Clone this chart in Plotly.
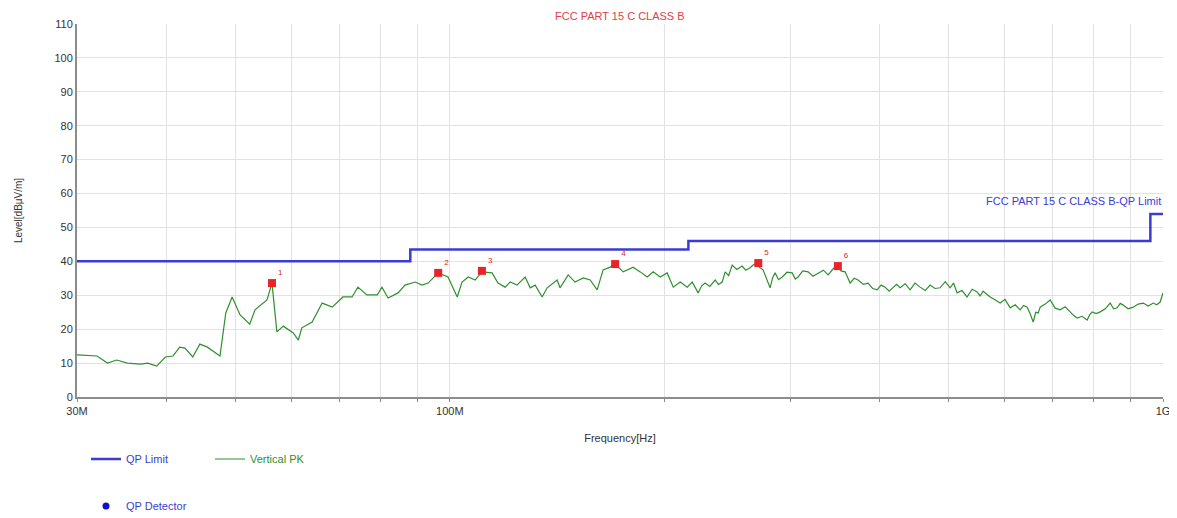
import plotly.graph_objects as go

# Limit line (QP limit, FCC Part 15 C class B), MHz / dBuV/m
limit_freq_mhz = [30, 88, 88, 216, 216, 960, 960, 1000]
limit_level = [40, 40, 43.5, 43.5, 46, 46, 54, 54]

# Vertical PK trace, MHz / dBuV/m
pk_freq_mhz = [
    30.0, 32.0, 33.1, 34.1, 35.3, 36.8, 37.7, 38.8, 39.9, 40.9, 41.8, 42.5, 43.6, 44.6, 45.7,
    47.6, 48.5, 49.5, 50.8, 52.4, 53.3, 55.4, 56.3, 57.2, 58.4, 60.3, 61.3, 62.0, 64.1, 66.2,
    68.4, 70.8, 72.9, 74.3, 76.5, 79.1, 80.3, 81.9, 84.6, 86.5, 89.4, 91.4, 93.2, 96.3, 99.4,
    102.4, 104.0, 106.1, 108.5, 110.9, 114.6, 116.8, 119.5, 121.5, 124.2, 127.5, 129.6, 131.7,
    134.7, 136.9, 141.4, 142.7, 146.5, 149.8, 153.8, 157.3, 160.9, 164.0, 167.8, 170.5, 175.0,
    180.7, 184.9, 189.1, 192.8, 197.2, 201.7, 205.7, 210.4, 215.2, 218.7, 222.9, 225.5, 228.0,
    231.5, 235.5, 238.0, 240.9, 243.2, 246.0, 248.8, 252.5, 256.9, 260.0, 263.6, 266.5, 269.6,
    272.0, 274.9, 278.0, 281.2, 283.5, 285.8, 289.0, 292.4, 297.0, 302.0, 305.0, 307.8, 312.5,
    317.9, 323.0, 328.4, 334.0, 339.2, 344.0, 349.1, 353.5, 358.3, 361.0, 364.1, 369.0, 373.6,
    380.0, 385.9, 391.5, 397.3, 402.5, 407.7, 413.0, 418.4, 423.0, 427.9, 435.0, 441.9, 449.0,
    456.4, 464.0, 471.4, 479.0, 486.9, 495.0, 502.9, 508.5, 514.4, 522.5, 531.2, 540.0, 548.8,
    554.0, 559.5, 566.0, 572.3, 582.0, 591.1, 600.5, 610.5, 620.5, 630.5, 637.5, 644.9, 651.0,
    657.6, 663.0, 668.3, 672.6, 683.5, 694.6, 706.0, 717.5, 729.0, 741.1, 749.5, 758.0, 770.0,
    782.8, 789.0, 795.7, 806.0, 816.4, 830.0, 843.2, 852.5, 862.4, 871.0, 879.3, 893.5, 908.3,
    923.0, 938.1, 953.5, 968.9, 980.0, 990.9, 1000.0,
]
pk_level = [
    12.4, 12.1, 10.0, 10.9, 10.0, 9.7, 10.0, 9.1, 11.8, 12.1, 14.7, 14.4, 11.8, 15.6, 14.7,
    12.1, 24.8, 29.5, 24.2, 21.5, 25.7, 28.6, 33.6, 19.2, 20.9, 18.9, 16.8, 20.4, 22.1, 27.7,
    26.5, 29.5, 29.5, 32.4, 30.1, 30.1, 32.4, 29.2, 30.7, 33.0, 33.9, 33.0, 33.6, 36.6, 35.4,
    29.5, 33.9, 35.4, 34.5, 36.9, 36.6, 33.6, 32.4, 33.9, 33.0, 35.4, 32.2, 33.0,
    29.5, 32.2, 34.5, 32.2, 36.0, 33.9, 35.1, 34.5, 31.6, 37.5, 38.3, 39.2, 36.9,
    38.3, 36.9, 35.4, 36.9, 35.4, 36.6, 32.4, 33.9, 32.4, 33.9, 30.7, 32.8, 33.6,
    32.6, 34.5, 33.2, 33.9, 36.9, 35.8, 38.9, 37.6, 38.6, 37.4, 38.1, 39.0, 39.5,
    38.2, 37.5, 35.0, 32.2, 35.2, 36.6, 34.6, 35.4, 36.8, 36.6, 34.8, 35.4, 37.2,
    36.9, 35.6, 36.6, 37.4, 36.0, 37.6, 38.9, 37.2, 36.9, 35.2, 33.6, 35.0, 34.5,
    33.2, 33.6, 32.0, 31.6, 33.0, 32.4, 31.2, 32.2, 33.2, 32.2, 33.4, 31.6, 33.6,
    32.4, 31.4, 33.0, 32.0, 32.2, 34.0, 32.2, 33.6, 30.7, 31.4, 29.5, 31.8, 31.0,
    29.8, 31.2, 30.2, 29.5, 28.6, 27.7, 28.8, 26.3, 27.2, 25.7, 27.0, 26.5, 24.6,
    22.1, 25.0, 24.8, 26.5, 27.4, 28.6, 26.2, 25.7, 26.6, 25.1, 24.0, 23.3, 23.8,
    22.7, 24.2, 25.1, 24.6, 25.1, 26.0, 27.7, 26.0, 26.3, 27.6, 27.1, 26.0, 26.5,
    27.4, 27.7, 26.8, 27.7, 27.2, 28.0, 30.7,
]

# QP detector markers
mk_freq_mhz = [56.3, 96.3, 110.9, 170.5, 270.7, 350.0]
mk_level = [33.6, 36.6, 37.2, 39.2, 39.5, 38.6]
mk_labels = ["1", "2", "3", "4", "5", "6"]

# Axis ticks
grid_mhz = [30, 40, 50, 60, 70, 80, 90, 100, 200, 300, 400, 500, 600, 700, 800, 900, 1000]
grid_text = ["30M", "", "", "", "", "", "", "100M", "", "", "", "", "", "", "", "", "1G"]
y_ticks = list(range(0, 111, 10))

BLUE = "#3c3cd2"
GREEN = "#2f8f2f"
RED = "#e8232a"
FONT = "Liberation Sans, Arial, sans-serif"
W, H = 1177, 518
OFF = 8  # page body margin

fig = go.Figure()
fig.add_trace(go.Scatter(
    x=[f * 1e6 for f in limit_freq_mhz], y=limit_level, mode="lines",
    line=dict(color=BLUE, width=2.5), name="QP Limit", legend="legend",
))
fig.add_trace(go.Scatter(
    x=[f * 1e6 for f in pk_freq_mhz], y=pk_level, mode="lines",
    line=dict(color=GREEN, width=1.2), name="Vertical PK", legend="legend2",
))
fig.add_trace(go.Scatter(
    x=[f * 1e6 for f in mk_freq_mhz], y=mk_level, mode="markers+text",
    marker=dict(symbol="square", size=8, color=RED),
    text=mk_labels, textposition="top right",
    textfont=dict(color=RED, size=8, family=FONT), showlegend=False,
))
fig.add_trace(go.Scatter(
    x=[None], y=[None], mode="markers",
    marker=dict(symbol="circle", size=7, color="#1010c8"),
    name="QP Detector", legend="legend3",
))

leg_common = dict(orientation="h", xref="container", yref="container",
                  yanchor="middle", xanchor="left", bgcolor="rgba(0,0,0,0)")
fig.update_layout(
    width=W, height=H,
    margin=dict(l=77 - OFF, r=W - (1163 - OFF), t=24 - OFF, b=H - (397 - OFF), autoexpand=False),
    paper_bgcolor="white", plot_bgcolor="white",
    font=dict(family=FONT, size=11, color="#333333"),
    showlegend=True,
    legend=dict(x=(86 - OFF) / W, y=1 - (459 - OFF) / H, font=dict(size=11, family=FONT, color=BLUE), **leg_common),
    legend2=dict(x=(210 - OFF) / W, y=1 - (459 - OFF) / H, font=dict(size=11, family=FONT, color=GREEN), **leg_common),
    legend3=dict(x=(86 - OFF) / W, y=1 - (506 - OFF) / H, font=dict(size=11, family=FONT, color=BLUE), **leg_common),
    annotations=[
        dict(text="FCC PART 15 C CLASS B", x=0.5, xref="paper", y=1.0, yref="paper",
             yanchor="middle", yshift=8, showarrow=False,
             font=dict(color="#e0404a", size=11, family=FONT)),
        dict(text="FCC PART 15 C CLASS B-QP Limit", x=1.0, xref="paper", y=57.7, yref="y",
             xanchor="right", yanchor="middle", showarrow=False,
             font=dict(color=BLUE, size=11, family=FONT)),
    ],
)
fig.update_xaxes(
    type="log", range=[7.4771, 9.0], automargin=False,
    tickvals=[g * 1e6 for g in grid_mhz], ticktext=grid_text,
    showgrid=True, gridcolor="#e2e2e2", gridwidth=1,
    showline=True, linecolor="#8c8c8c", linewidth=2,
    ticks="outside", ticklen=3, tickcolor="#8c8c8c",
    tickfont=dict(size=11, color="#333333"),
    title=dict(text="Frequency[Hz]", font=dict(size=11, color="#333333"), standoff=20),
    zeroline=False,
)
fig.update_yaxes(
    range=[0, 110], tickvals=y_ticks, automargin=False,
    showgrid=True, gridcolor="#e2e2e2", gridwidth=1,
    showline=True, linecolor="#8c8c8c", linewidth=2,
    ticks="", tickfont=dict(size=11, color="#333333"),
    title=dict(text="Level[dBμV/m]", font=dict(size=10, color="#333333"), standoff=30),
    zeroline=False,
)
fig.write_html("out.html")
